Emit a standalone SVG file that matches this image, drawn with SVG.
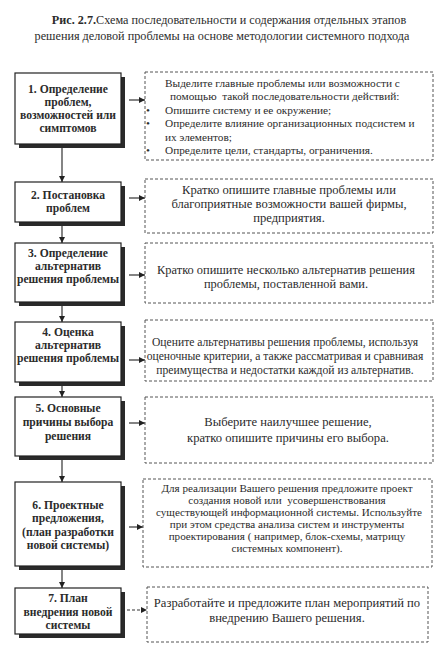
<svg xmlns="http://www.w3.org/2000/svg" width="439" height="650" viewBox="0 0 439 650">
<defs>
<style>
.t{font-family:'Liberation Serif','DejaVu Serif',serif;fill:#2b2b2b}
.title{font-size:12.2px}
.lb{font-size:11.6px;font-weight:bold;text-anchor:middle}
.r{font-size:12.6px;text-anchor:middle}
.rs{font-size:11.3px}
.rsm{font-size:11.6px;text-anchor:middle}
.r6{font-size:11.1px;text-anchor:middle}
.box{fill:#fff;stroke:#222;stroke-width:1.2}
.sh{fill:#2a2a2a}
.dash{fill:#fff;stroke:#555;stroke-width:1;stroke-dasharray:3 2}
.ln{stroke:#333;stroke-width:1.2;fill:none}
</style>
<marker id="ah" viewBox="0 0 10 10" refX="10" refY="5" markerWidth="8" markerHeight="6" markerUnits="userSpaceOnUse" orient="auto">
<path d="M0,0 L10,5 L0,10 z" fill="#222"/>
</marker>
</defs>
<rect width="439" height="650" fill="#fff"/>
<g id="title">
<text class="t title" x="229" y="24" text-anchor="middle"><tspan font-weight="bold">Рис. 2.7.</tspan>Схема последовательности и содержания отдельных этапов</text>
<text class="t title" x="222" y="40" text-anchor="middle">решения деловой проблемы на основе методологии системного подхода</text>
</g>
<g id="connectors">
<line class="ln" x1="62" y1="144" x2="62" y2="182" marker-end="url(#ah)"/>
<line class="ln" x1="62" y1="222" x2="62" y2="243" marker-end="url(#ah)"/>
<line class="ln" x1="62" y1="302" x2="62" y2="322" marker-end="url(#ah)"/>
<line class="ln" x1="62" y1="382" x2="62" y2="397" marker-end="url(#ah)"/>
<line class="ln" x1="62" y1="456" x2="62" y2="482" marker-end="url(#ah)"/>
<line class="ln" x1="62" y1="566" x2="62" y2="588" marker-end="url(#ah)"/>
<line class="ln" x1="129" y1="100" x2="145" y2="100" marker-end="url(#ah)"/>
<line class="ln" x1="129" y1="198" x2="145" y2="198" marker-end="url(#ah)"/>
<line class="ln" x1="129" y1="275" x2="145" y2="275" marker-end="url(#ah)"/>
<line class="ln" x1="129" y1="360" x2="145" y2="360" marker-end="url(#ah)"/>
<line class="ln" x1="129" y1="423" x2="145" y2="423" marker-end="url(#ah)"/>
<line class="ln" x1="129" y1="527" x2="143" y2="527" marker-end="url(#ah)"/>
<line class="ln" x1="127" y1="610" x2="147" y2="610" stroke-dasharray="3 2" marker-end="url(#ah)"/>
</g>
<g id="n1">
<rect class="sh" x="19" y="77" width="106" height="71"/>
<rect class="box" x="15" y="73" width="106" height="71"/>
<text class="t lb" x="68" y="93">1. Определение</text>
<text class="t lb" x="68" y="106">проблем,</text>
<text class="t lb" x="68" y="119">возможностей или</text>
<text class="t lb" x="68" y="132">симптомов</text>
</g>
<g id="n2">
<rect class="sh" x="19" y="186" width="106" height="40"/>
<rect class="box" x="15" y="182" width="106" height="40"/>
<text class="t lb" x="68" y="199">2. Постановка</text>
<text class="t lb" x="68" y="212">проблем</text>
</g>
<g id="n3">
<rect class="sh" x="19" y="247" width="106" height="59"/>
<rect class="box" x="15" y="243" width="106" height="59"/>
<text class="t lb" x="68" y="257">3. Определение</text>
<text class="t lb" x="68" y="270">альтернатив</text>
<text class="t lb" x="68" y="283">решения проблемы</text>
</g>
<g id="n4">
<rect class="sh" x="19" y="326" width="106" height="60"/>
<rect class="box" x="15" y="322" width="106" height="60"/>
<text class="t lb" x="68" y="336">4. Оценка</text>
<text class="t lb" x="68" y="349">альтернатив</text>
<text class="t lb" x="68" y="362">решения проблемы</text>
</g>
<g id="n5">
<rect class="sh" x="19" y="401" width="106" height="59"/>
<rect class="box" x="15" y="397" width="106" height="59"/>
<text class="t lb" x="68" y="412">5. Основные</text>
<text class="t lb" x="68" y="426">причины выбора</text>
<text class="t lb" x="68" y="440">решения</text>
</g>
<g id="n6">
<rect class="sh" x="19" y="486" width="106" height="84"/>
<rect class="box" x="15" y="482" width="106" height="84"/>
<text class="t lb" x="68" y="509">6. Проектные</text>
<text class="t lb" x="68" y="522">предложения,</text>
<text class="t lb" x="68" y="536">(план разработки</text>
<text class="t lb" x="68" y="549">новой системы)</text>
</g>
<g id="n7">
<rect class="sh" x="19" y="592" width="106" height="46"/>
<rect class="box" x="15" y="588" width="106" height="46"/>
<text class="t lb" x="68" y="602">7. План</text>
<text class="t lb" x="68" y="616">внедрения новой</text>
<text class="t lb" x="68" y="629">системы</text>
</g>
<g id="d1">
<rect class="dash" x="145" y="72" width="288" height="88"/>
<text class="t rs" x="165" y="87">Выделите главные проблемы или возможности  с</text>
<text class="t rs" x="170" y="100" xml:space="preserve">помощью  такой последовательности действий:</text>
<text class="t rs" x="146" y="114">•</text><text class="t rs" x="165" y="114">Опишите систему и ее окружение;</text>
<text class="t rs" x="146" y="127">•</text><text class="t rs" x="165" y="127">Определите влияние организационных подсистем и</text>
<text class="t rs" x="165" y="141">их элементов;</text>
<text class="t rs" x="146" y="154">•</text><text class="t rs" x="165" y="154">Определите цели, стандарты, ограничения.</text>
</g>
<g id="d2">
<rect class="dash" x="145" y="179" width="288" height="54"/>
<text class="t r" x="289" y="194">Кратко опишите главные проблемы или</text>
<text class="t r" x="289" y="208">благоприятные возможности вашей фирмы,</text>
<text class="t r" x="289" y="222">предприятия.</text>
</g>
<g id="d3">
<rect class="dash" x="145" y="243" width="288" height="60"/>
<text class="t r" x="286" y="274" style="font-size:12.4px">Кратко опишите несколько альтернатив решения</text>
<text class="t r" x="286" y="288" style="font-size:12.4px">проблемы, поставленной вами.</text>
</g>
<g id="d4">
<rect class="dash" x="145" y="320" width="288" height="61"/>
<text class="t rsm" x="285" y="346">Оцените альтернативы решения проблемы, используя</text>
<text class="t rsm" x="285" y="360">оценочные критерии, а также рассматривая и сравнивая</text>
<text class="t rsm" x="285" y="374">преимущества и недостатки каждой из альтернатив.</text>
</g>
<g id="d5">
<rect class="dash" x="145" y="397" width="288" height="66"/>
<text class="t r" x="288" y="426">Выберите наилучшее решение,</text>
<text class="t r" x="288" y="442">кратко опишите причины его выбора.</text>
</g>
<g id="d6">
<rect class="dash" x="143" y="479" width="289" height="88"/>
<text class="t r6" x="287" y="492">Для реализации Вашего решения предложите проект</text>
<text class="t r6" x="287" y="504" xml:space="preserve">создания новой или  усовершенствования</text>
<text class="t r6" x="289" y="516">существующей информационной системы. Используйте</text>
<text class="t r6" x="287" y="528">при этом средства анализа систем и инструменты</text>
<text class="t r6" x="287" y="540">проектирования ( например, блок-схемы, матрицу</text>
<text class="t r6" x="287" y="552">системных компонент).</text>
</g>
<g id="d7">
<rect class="dash" x="147" y="587" width="281" height="55"/>
<text class="t r" x="287" y="607">Разработайте и предложите план мероприятий по</text>
<text class="t r" x="287" y="622">внедрению Вашего решения.</text>
</g>
</svg>
